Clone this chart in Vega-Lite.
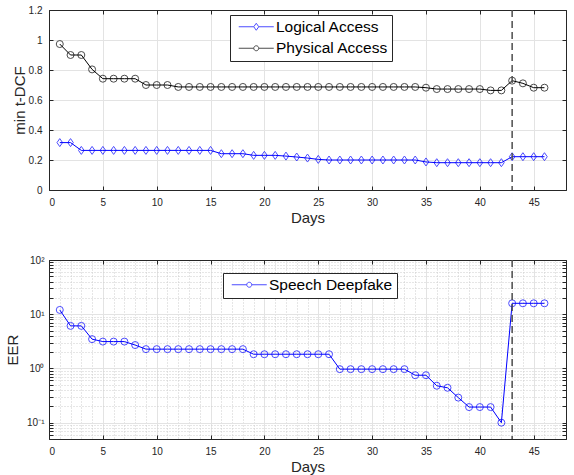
{
  "$schema": "https://vega.github.io/schema/vega-lite/v6.json",
  "background": "white",
  "padding": {"left": 5, "top": 4, "right": 3, "bottom": 3},
  "bounds": "flush",
  "spacing": 70,
  "config": {
    "font": "Liberation Sans",
    "view": {"stroke": "#262626", "strokeWidth": 1},
    "axis": {
      "labelFont": "Liberation Sans", "labelFontSize": 10, "labelColor": "#262626",
      "titleFont": "Liberation Sans", "titleFontSize": 15, "titleFontWeight": "normal", "titleColor": "#262626",
      "gridColor": "#e3e3e3", "domainColor": "#262626", "tickColor": "#262626",
      "tickSize": -4, "labelPadding": 11
    },
    "legend": {
      "labelFont": "Liberation Sans", "labelFontSize": 15.5, "labelColor": "#000000",
      "strokeColor": "#262626", "fillColor": "white", "padding": 4,
      "symbolSize": 100, "symbolStrokeWidth": 1, "symbolFillColor": "transparent",
      "symbolOffset": 14.5, "rowPadding": 4.5, "labelOffset": 12, "labelLimit": 300
    }
  },
  "datasets": {
    "tdcf": [
      {"day": 1, "Logical Access": 0.316, "Physical Access": 0.973},
      {"day": 2, "Logical Access": 0.316, "Physical Access": 0.9},
      {"day": 3, "Logical Access": 0.264, "Physical Access": 0.9},
      {"day": 4, "Logical Access": 0.264, "Physical Access": 0.804},
      {"day": 5, "Logical Access": 0.264, "Physical Access": 0.742},
      {"day": 6, "Logical Access": 0.264, "Physical Access": 0.742},
      {"day": 7, "Logical Access": 0.264, "Physical Access": 0.742},
      {"day": 8, "Logical Access": 0.264, "Physical Access": 0.742},
      {"day": 9, "Logical Access": 0.264, "Physical Access": 0.7},
      {"day": 10, "Logical Access": 0.264, "Physical Access": 0.7},
      {"day": 11, "Logical Access": 0.264, "Physical Access": 0.7},
      {"day": 12, "Logical Access": 0.264, "Physical Access": 0.687},
      {"day": 13, "Logical Access": 0.264, "Physical Access": 0.687},
      {"day": 14, "Logical Access": 0.264, "Physical Access": 0.687},
      {"day": 15, "Logical Access": 0.264, "Physical Access": 0.687},
      {"day": 16, "Logical Access": 0.242, "Physical Access": 0.687},
      {"day": 17, "Logical Access": 0.242, "Physical Access": 0.687},
      {"day": 18, "Logical Access": 0.242, "Physical Access": 0.687},
      {"day": 19, "Logical Access": 0.231, "Physical Access": 0.687},
      {"day": 20, "Logical Access": 0.231, "Physical Access": 0.687},
      {"day": 21, "Logical Access": 0.231, "Physical Access": 0.687},
      {"day": 22, "Logical Access": 0.226, "Physical Access": 0.687},
      {"day": 23, "Logical Access": 0.22, "Physical Access": 0.687},
      {"day": 24, "Logical Access": 0.213, "Physical Access": 0.687},
      {"day": 25, "Logical Access": 0.204, "Physical Access": 0.687},
      {"day": 26, "Logical Access": 0.2, "Physical Access": 0.687},
      {"day": 27, "Logical Access": 0.2, "Physical Access": 0.687},
      {"day": 28, "Logical Access": 0.2, "Physical Access": 0.687},
      {"day": 29, "Logical Access": 0.2, "Physical Access": 0.687},
      {"day": 30, "Logical Access": 0.2, "Physical Access": 0.687},
      {"day": 31, "Logical Access": 0.2, "Physical Access": 0.687},
      {"day": 32, "Logical Access": 0.2, "Physical Access": 0.687},
      {"day": 33, "Logical Access": 0.2, "Physical Access": 0.687},
      {"day": 34, "Logical Access": 0.2, "Physical Access": 0.687},
      {"day": 35, "Logical Access": 0.187, "Physical Access": 0.682},
      {"day": 36, "Logical Access": 0.182, "Physical Access": 0.673},
      {"day": 37, "Logical Access": 0.182, "Physical Access": 0.673},
      {"day": 38, "Logical Access": 0.182, "Physical Access": 0.673},
      {"day": 39, "Logical Access": 0.182, "Physical Access": 0.673},
      {"day": 40, "Logical Access": 0.182, "Physical Access": 0.673},
      {"day": 41, "Logical Access": 0.182, "Physical Access": 0.664},
      {"day": 42, "Logical Access": 0.182, "Physical Access": 0.664},
      {"day": 43, "Logical Access": 0.222, "Physical Access": 0.729},
      {"day": 44, "Logical Access": 0.222, "Physical Access": 0.711},
      {"day": 45, "Logical Access": 0.222, "Physical Access": 0.682},
      {"day": 46, "Logical Access": 0.222, "Physical Access": 0.682}
    ],
    "eer": [
      {"day": 1, "system": "Speech Deepfake", "value": 12},
      {"day": 2, "system": "Speech Deepfake", "value": 6.1},
      {"day": 3, "system": "Speech Deepfake", "value": 6.1},
      {"day": 4, "system": "Speech Deepfake", "value": 3.47},
      {"day": 5, "system": "Speech Deepfake", "value": 3.13},
      {"day": 6, "system": "Speech Deepfake", "value": 3.13},
      {"day": 7, "system": "Speech Deepfake", "value": 3.13},
      {"day": 8, "system": "Speech Deepfake", "value": 2.7},
      {"day": 9, "system": "Speech Deepfake", "value": 2.27},
      {"day": 10, "system": "Speech Deepfake", "value": 2.27},
      {"day": 11, "system": "Speech Deepfake", "value": 2.27},
      {"day": 12, "system": "Speech Deepfake", "value": 2.27},
      {"day": 13, "system": "Speech Deepfake", "value": 2.27},
      {"day": 14, "system": "Speech Deepfake", "value": 2.27},
      {"day": 15, "system": "Speech Deepfake", "value": 2.27},
      {"day": 16, "system": "Speech Deepfake", "value": 2.27},
      {"day": 17, "system": "Speech Deepfake", "value": 2.27},
      {"day": 18, "system": "Speech Deepfake", "value": 2.27},
      {"day": 19, "system": "Speech Deepfake", "value": 1.83},
      {"day": 20, "system": "Speech Deepfake", "value": 1.83},
      {"day": 21, "system": "Speech Deepfake", "value": 1.83},
      {"day": 22, "system": "Speech Deepfake", "value": 1.83},
      {"day": 23, "system": "Speech Deepfake", "value": 1.83},
      {"day": 24, "system": "Speech Deepfake", "value": 1.83},
      {"day": 25, "system": "Speech Deepfake", "value": 1.83},
      {"day": 26, "system": "Speech Deepfake", "value": 1.83},
      {"day": 27, "system": "Speech Deepfake", "value": 0.97},
      {"day": 28, "system": "Speech Deepfake", "value": 0.97},
      {"day": 29, "system": "Speech Deepfake", "value": 0.97},
      {"day": 30, "system": "Speech Deepfake", "value": 0.97},
      {"day": 31, "system": "Speech Deepfake", "value": 0.97},
      {"day": 32, "system": "Speech Deepfake", "value": 0.97},
      {"day": 33, "system": "Speech Deepfake", "value": 0.97},
      {"day": 34, "system": "Speech Deepfake", "value": 0.75},
      {"day": 35, "system": "Speech Deepfake", "value": 0.75},
      {"day": 36, "system": "Speech Deepfake", "value": 0.48},
      {"day": 37, "system": "Speech Deepfake", "value": 0.44},
      {"day": 38, "system": "Speech Deepfake", "value": 0.29},
      {"day": 39, "system": "Speech Deepfake", "value": 0.194},
      {"day": 40, "system": "Speech Deepfake", "value": 0.194},
      {"day": 41, "system": "Speech Deepfake", "value": 0.194},
      {"day": 42, "system": "Speech Deepfake", "value": 0.1},
      {"day": 43, "system": "Speech Deepfake", "value": 15.9},
      {"day": 44, "system": "Speech Deepfake", "value": 15.9},
      {"day": 45, "system": "Speech Deepfake", "value": 15.9},
      {"day": 46, "system": "Speech Deepfake", "value": 15.9}
    ],
    "marker": [{"day": 43}]
  },
  "resolve": {
    "scale": {"x": "independent", "y": "independent", "color": "independent", "shape": "independent"},
    "legend": {"color": "independent", "shape": "independent"}
  },
  "vconcat": [
    {
      "width": 517,
      "height": 180,
      "data": {"name": "tdcf"},
      "transform": [{"fold": ["Logical Access", "Physical Access"], "as": ["system", "value"]}],
      "layer": [
        {
          "mark": {"type": "line", "strokeWidth": 1},
          "encoding": {
            "x": {"field": "day", "type": "quantitative", "scale": {"domain": [0, 48], "nice": false},
              "axis": {"title": "Days", "values": [0, 5, 10, 15, 20, 25, 30, 35, 40, 45], "titlePadding": 3}},
            "y": {"field": "value", "type": "quantitative", "scale": {"domain": [0, 1.2], "nice": false},
              "axis": {"title": "min t-DCF", "values": [0, 0.2, 0.4, 0.6, 0.8, 1, 1.2], "format": "~g", "labelPadding": 11, "titlePadding": 1}},
            "color": {"field": "system", "type": "nominal",
              "scale": {"domain": ["Logical Access", "Physical Access"], "range": ["#0000ff", "#000000"]},
              "legend": {"title": null, "orient": "none", "legendX": 181, "legendY": 5}}
          }
        },
        {
          "transform": [{"filter": "datum.system === 'Logical Access'"}],
          "mark": {"type": "point", "filled": false, "strokeWidth": 1, "size": 64, "shape": "M-0.7,0L0,-1L0.7,0L0,1Z"},
          "encoding": {
            "x": {"field": "day", "type": "quantitative",
              "axis": {"orient": "top", "labels": false, "title": null, "grid": false, "values": [0, 5, 10, 15, 20, 25, 30, 35, 40, 45]}},
            "y": {"field": "value", "type": "quantitative",
              "axis": {"orient": "right", "labels": false, "title": null, "grid": false, "values": [0, 0.2, 0.4, 0.6, 0.8, 1, 1.2]}},
            "color": {"field": "system", "type": "nominal",
              "legend": {"title": null, "orient": "none", "legendX": 181, "legendY": 5}}
          }
        },
        {
          "transform": [{"filter": "datum.system === 'Physical Access'"}],
          "mark": {"type": "point", "filled": false, "strokeWidth": 1, "size": 49, "shape": "circle"},
          "encoding": {
            "x": {"field": "day", "type": "quantitative", "axis": null},
            "y": {"field": "value", "type": "quantitative", "axis": null},
            "color": {"field": "system", "type": "nominal",
              "legend": {"title": null, "orient": "none", "legendX": 181, "legendY": 5}}
          }
        },
        {
          "transform": [{"filter": "datum.day < 0"}],
          "mark": {"type": "point", "filled": false, "strokeWidth": 1},
          "encoding": {
            "x": {"field": "day", "type": "quantitative", "axis": null},
            "y": {"field": "value", "type": "quantitative", "axis": null},
            "color": {"field": "system", "type": "nominal",
              "legend": {"title": null, "orient": "none", "legendX": 181, "legendY": 5}},
            "shape": {"field": "system", "type": "nominal",
              "scale": {"domain": ["Logical Access", "Physical Access"],
                "range": ["M-3.5,0L-0.5,0M0.5,0L3.5,0M-0.5,0L0,-0.7L0.5,0L0,0.7Z", "M-3.5,0L-0.5,0M0.5,0L3.5,0M-0.5,0A0.5,0.5,0,1,1,0.5,0A0.5,0.5,0,1,1,-0.5,0Z"]},
              "legend": {"title": null, "orient": "none", "legendX": 181, "legendY": 5}}
          }
        },
        {
          "data": {"name": "marker"},
          "mark": {"type": "rule", "color": "#4d4d4d", "strokeDash": [7, 4], "strokeWidth": 1.5},
          "encoding": {"x": {"field": "day", "type": "quantitative", "axis": null}}
        }
      ],
      "resolve": {"axis": {"x": "independent", "y": "independent"}}
    },
    {
      "width": 517,
      "height": 179,
      "data": {"name": "eer"},
      "layer": [
        {
          "mark": {"type": "line", "strokeWidth": 1},
          "encoding": {
            "x": {"field": "day", "type": "quantitative", "scale": {"domain": [0, 48], "nice": false},
              "axis": {"title": "Days", "titlePadding": 3,
                "values": [0,1,2,3,4,5,6,7,8,9,10,11,12,13,14,15,16,17,18,19,20,21,22,23,24,25,26,27,28,29,30,31,32,33,34,35,36,37,38,39,40,41,42,43,44,45,46,47],
                "labelExpr": "datum.value % 5 === 0 ? datum.label : ''",
                "tickOpacity": {"condition": {"test": "datum.value % 5 === 0", "value": 1}, "value": 0},
                "gridDash": {"condition": {"test": "datum.value % 5 === 0", "value": []}, "value": [1, 2]},
                "gridColor": {"condition": {"test": "datum.value % 5 === 0", "value": "#e3e3e3"}, "value": "#cccccc"}}},
            "y": {"field": "value", "type": "quantitative", "scale": {"type": "log", "domain": [0.05, 100], "nice": false},
              "axis": {"title": "EER", "titlePadding": 6, "labelPadding": 9,
                "values": [0.06,0.07,0.08,0.09,0.1,0.2,0.3,0.4,0.5,0.6,0.7,0.8,0.9,1,2,3,4,5,6,7,8,9,10,20,30,40,50,60,70,80,90,100],
                "labelExpr": "abs(log(datum.value)/LN10 - round(log(datum.value)/LN10)) < 0.0001 ? (datum.value > 50 ? '10²' : datum.value > 5 ? '10¹' : datum.value > 0.5 ? '10⁰' : '10⁻¹') : ''",
                "gridDash": {"condition": {"test": "abs(log(datum.value)/LN10 - round(log(datum.value)/LN10)) < 0.0001", "value": []}, "value": [1, 2]},
                "gridColor": {"condition": {"test": "abs(log(datum.value)/LN10 - round(log(datum.value)/LN10)) < 0.0001", "value": "#e3e3e3"}, "value": "#cccccc"}}},
            "color": {"field": "system", "type": "nominal",
              "scale": {"domain": ["Speech Deepfake"], "range": ["#0000ff"]},
              "legend": {"title": null, "orient": "none", "legendX": 174, "legendY": 13,
                "symbolType": "M-3.5,0L-0.5,0M0.5,0L3.5,0M-0.5,0A0.5,0.5,0,1,1,0.5,0A0.5,0.5,0,1,1,-0.5,0Z"}}
          }
        },
        {
          "mark": {"type": "point", "filled": false, "strokeWidth": 1, "size": 49, "shape": "circle"},
          "encoding": {
            "x": {"field": "day", "type": "quantitative",
              "axis": {"orient": "top", "labels": false, "title": null, "grid": false, "values": [0, 5, 10, 15, 20, 25, 30, 35, 40, 45]}},
            "y": {"field": "value", "type": "quantitative",
              "axis": {"orient": "right", "labels": false, "title": null, "grid": false,
                "values": [0.06,0.07,0.08,0.09,0.1,0.2,0.3,0.4,0.5,0.6,0.7,0.8,0.9,1,2,3,4,5,6,7,8,9,10,20,30,40,50,60,70,80,90,100]}},
            "color": {"field": "system", "type": "nominal",
              "legend": {"title": null, "orient": "none", "legendX": 174, "legendY": 13,
                "symbolType": "M-3.5,0L-0.5,0M0.5,0L3.5,0M-0.5,0A0.5,0.5,0,1,1,0.5,0A0.5,0.5,0,1,1,-0.5,0Z"}}
          }
        },
        {
          "data": {"name": "marker"},
          "mark": {"type": "rule", "color": "#4d4d4d", "strokeDash": [7, 4], "strokeWidth": 1.5},
          "encoding": {"x": {"field": "day", "type": "quantitative", "axis": null}}
        }
      ],
      "resolve": {"axis": {"x": "independent", "y": "independent"}}
    }
  ]
}
